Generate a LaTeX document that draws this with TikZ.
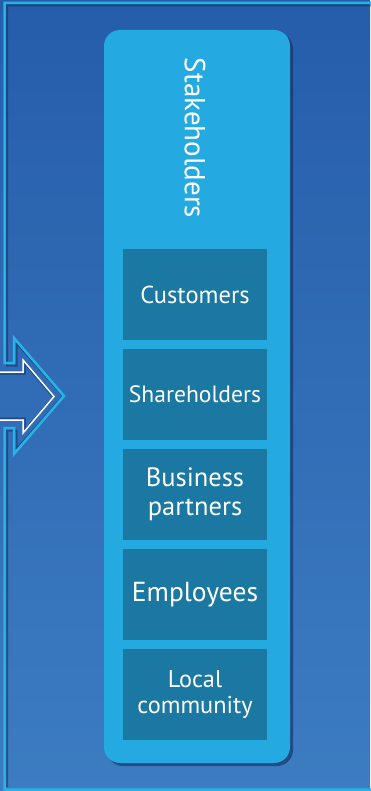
\documentclass[tikz,border=0pt]{standalone}
\usepackage{fontspec}
\setmainfont{PT Sans}
\usetikzlibrary{positioning,shadows}

\definecolor{bgtop}{RGB}{38,93,171}
\definecolor{bgbot}{RGB}{60,124,193}
\definecolor{framecyan}{RGB}{38,180,230}
\definecolor{stakeblue}{RGB}{36,169,225}
\definecolor{memberblue}{RGB}{26,120,162}
\definecolor{shadowblue}{RGB}{18,45,95}

\begin{document}
\begin{tikzpicture}[x=1pt,y=-1pt,node distance=8.5pt,
    member/.style={fill=memberblue,text=white,minimum width=144pt,minimum height=91pt,
        inner sep=0pt,align=center}]
\useasboundingbox (0,0) rectangle (370,791);
\shade[top color=bgtop,bottom color=bgbot] (0,0) rectangle (370,791);
\draw[shadowblue,line width=2pt,opacity=.5] (372,5.5) -- (7,5.5) -- (7,365.5) -- (16.5,365.5) -- (16.5,343) -- (63,396) -- (16.5,449) -- (16.5,430.5) -- (7,430.5) -- (7,787);
\draw[framecyan,line width=2.5pt] (372,3) -- (4.5,3) -- (4.5,363) -- (14,363) -- (14,338) -- (64,396) -- (14,454) -- (14,428) -- (4.5,428) -- (4.5,789.5) -- (372,789.5);
\draw[shadowblue,line width=1.5pt,opacity=.5] (-2,374) -- (25,374) -- (25,364) -- (53,397) -- (25,430) -- (25,418) -- (-2,418);
\draw[white,line width=1.5pt] (-2,372) -- (23,372) -- (23,360) -- (54,396.5) -- (23,433) -- (23,420) -- (-2,420);
\node[fill=stakeblue,rounded corners=16pt,minimum width=186pt,minimum height=733pt,inner sep=0pt,
    drop shadow={shadow xshift=3pt,shadow yshift=-3pt,opacity=.6,fill=shadowblue}] (stake) at (197,396.5) {};
\node[rotate=-90,text=white,font=\fontsize{29}{34}\selectfont] (stakeTitle) at (195,138) {Stakeholders};
\node[member,font=\fontsize{24.5}{29}\selectfont] (cust) at (195,294.5) {Customers};
\node[member,font=\fontsize{23.6}{28}\selectfont,below=of cust] (share) {Shareholders};
\node[member,font=\fontsize{26.5}{29}\selectfont,below=of share] (bpart) {Business\\partners};
\node[member,font=\fontsize{27.5}{30}\selectfont,below=of bpart] (empl) {Employees};
\node[member,font=\fontsize{24.3}{26}\selectfont,below=of empl] (local) {Local\\community};
\end{tikzpicture}
\end{document}
